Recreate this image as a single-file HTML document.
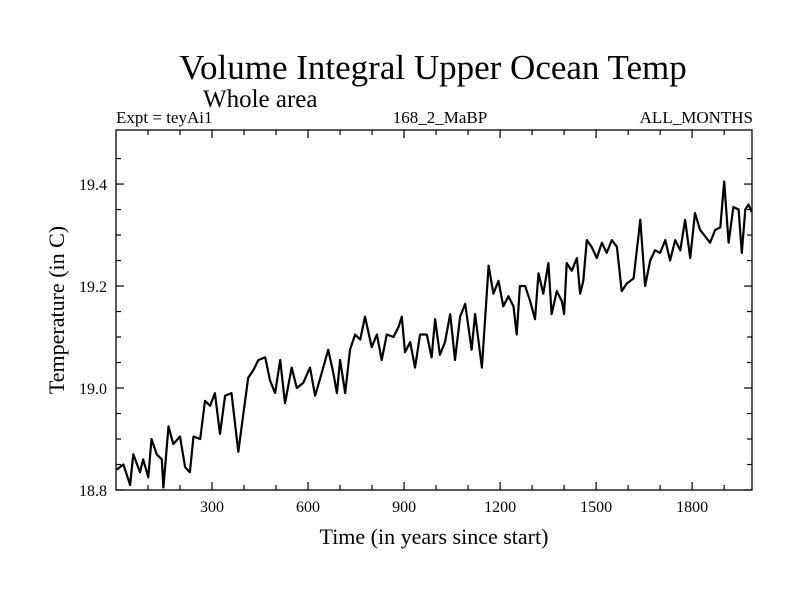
<!DOCTYPE html>
<html><head><meta charset="utf-8"><style>
body{margin:0;background:#fff;}
svg text{font-family:"Liberation Serif",serif;fill:#000;}
</style></head><body>
<svg id="chart" width="800" height="600" xmlns="http://www.w3.org/2000/svg">
<text x="433" y="79" font-size="35" text-anchor="middle">Volume Integral Upper Ocean Temp</text>
<text x="203" y="107" font-size="25">Whole area</text>
<text x="116" y="123" font-size="17">Expt = teyAi1</text>
<text x="440" y="123" font-size="17" text-anchor="middle">168_2_MaBP</text>
<text x="753" y="123" font-size="17" text-anchor="end">ALL_MONTHS</text>
<text x="434" y="544" font-size="22" text-anchor="middle">Time (in years since start)</text>
<text transform="translate(64,310) rotate(-90)" font-size="22" text-anchor="middle">Temperature (in C)</text>
<g id="axes"></g>
<g id="series"></g>
</svg>
<script>
const years=[2,23,44,54,75,85,101,111,127,143,148,164,179,200,216,231,242,263,278,294,309,325,341,361,382,398,413,429,445,466,481,497,513,528,549,565,585,606,622,643,663,679,690,700,716,731,747,763,778,799,815,830,846,867,883,893,903,919,934,950,971,986,997,1012,1028,1044,1059,1075,1091,1111,1122,1143,1153,1164,1179,1195,1210,1226,1242,1252,1262,1278,1294,1309,1320,1335,1351,1361,1377,1393,1400,1408,1424,1440,1450,1460,1471,1486,1502,1518,1533,1549,1565,1580,1596,1617,1638,1653,1669,1684,1700,1716,1731,1747,1763,1778,1794,1809,1825,1841,1856,1872,1888,1900,1914,1929,1945,1955,1966,1976,1986];
const temps=[18.84,18.85,18.81,18.87,18.835,18.86,18.825,18.9,18.87,18.86,18.805,18.925,18.89,18.905,18.845,18.835,18.905,18.9,18.975,18.965,18.99,18.91,18.985,18.99,18.875,18.95,19.02,19.035,19.055,19.06,19.015,18.99,19.055,18.97,19.04,19.0,19.01,19.04,18.985,19.03,19.075,19.03,18.99,19.055,18.99,19.075,19.105,19.095,19.14,19.08,19.105,19.055,19.105,19.1,19.12,19.14,19.07,19.09,19.04,19.105,19.105,19.06,19.135,19.065,19.09,19.145,19.055,19.14,19.165,19.075,19.145,19.04,19.135,19.24,19.185,19.21,19.16,19.18,19.16,19.105,19.2,19.2,19.17,19.135,19.225,19.185,19.245,19.145,19.19,19.17,19.145,19.245,19.23,19.255,19.185,19.21,19.29,19.277,19.255,19.285,19.265,19.29,19.277,19.19,19.205,19.215,19.33,19.2,19.25,19.27,19.265,19.29,19.25,19.29,19.27,19.33,19.255,19.343,19.31,19.297,19.285,19.31,19.315,19.405,19.285,19.355,19.35,19.265,19.35,19.36,19.345];
const xMajorTicks=[300,600,900,1200,1500,1800];
const xMinorTicks=[100,200,400,500,700,800,1000,1100,1300,1400,1600,1700,1900];
const yMajorTicks=[18.8,19.0,19.2,19.4];
const yMinorTicks=[18.85,18.9,18.95,19.05,19.1,19.15,19.25,19.3,19.35,19.45];
const yTickLabels=["18.8","19.0","19.2","19.4"];
const xTickLabels=["300","600","900","1200","1500","1800"];

const L=116,R=752,T=130,B=490;
const X0=0,X1=1987,Y0=18.8,Y1=19.506;
const sx=v=>L+(v-X0)/(X1-X0)*(R-L);
const sy=v=>B-(v-Y0)/(Y1-Y0)*(B-T);
const NS="http://www.w3.org/2000/svg";
const axes=document.getElementById('axes');
function mk(tag,attrs,parent){const e=document.createElementNS(NS,tag);for(const k in attrs)e.setAttribute(k,attrs[k]);parent.appendChild(e);return e;}
const frame=mk('rect',{x:L,y:T,width:R-L,height:B-T,fill:'none',stroke:'#000','stroke-width':1.3},axes);


function xt(v,len){
  const a=mk('line',{x1:sx(v),x2:sx(v),y1:B,y2:B-len,stroke:'#000','stroke-width':1.2},axes);
  
  
  const b=mk('line',{x1:sx(v),x2:sx(v),y1:T,y2:T+len,stroke:'#000','stroke-width':1.2},axes);
  
  
}
function yt(v,len){
  const a=mk('line',{x1:L,x2:L+len,y1:sy(v),y2:sy(v),stroke:'#000','stroke-width':1.2},axes);
  
  
  const b=mk('line',{x1:R,x2:R-len,y1:sy(v),y2:sy(v),stroke:'#000','stroke-width':1.2},axes);
  
  
}
xMajorTicks.forEach((v,i)=>{xt(v,8);
  const t=mk('text',{x:sx(v),y:B+22,'font-size':16,'text-anchor':'middle'},axes);t.textContent=xTickLabels[i];
  
  
});
xMinorTicks.forEach(v=>xt(v,5));
yMajorTicks.forEach((v,i)=>{yt(v,8);
  const t=mk('text',{x:L-9,y:sy(v)+6,'font-size':16,'text-anchor':'end'},axes);t.textContent=yTickLabels[i];
  
  
});
yMinorTicks.forEach(v=>yt(v,5));
const d=years.map((y,i)=>(i?'L':'M')+sx(y).toFixed(1)+' '+sy(temps[i]).toFixed(1)).join(' ');
const line=mk('path',{d:d,fill:'none',stroke:'#000','stroke-width':2.2,'stroke-linejoin':'round'},document.getElementById('series'));


</script>
</body></html>
